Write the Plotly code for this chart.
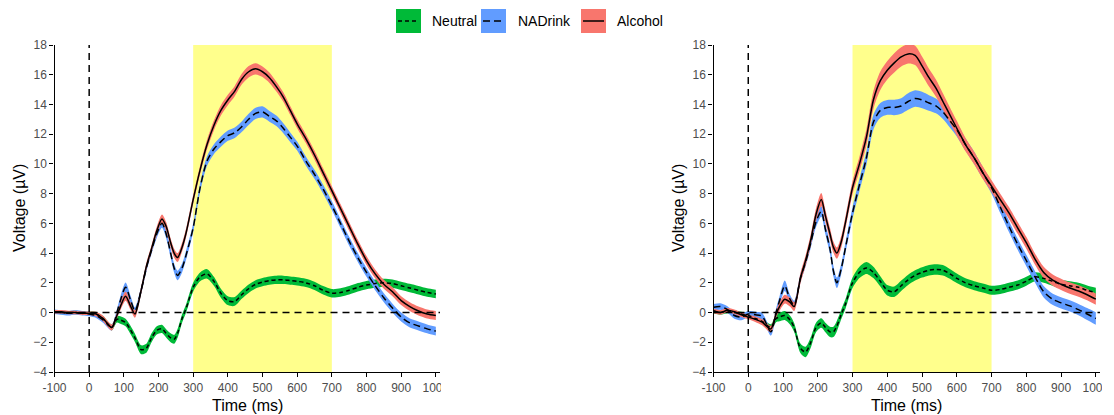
import plotly.graph_objects as go

# ---------------- data ----------------
time_ms = [-100, -80, -60, -40, -20, 0, 20, 40, 65, 80, 90, 105, 120, 132,
           150, 165, 180, 195, 210, 222, 235, 245, 255, 268, 280,
           300, 320, 340, 360, 380, 400, 420, 440, 460, 480, 500, 520, 540, 560, 580, 600,
           625, 650, 675, 700, 725, 750, 775, 800, 825, 850, 875, 900, 925, 950, 975, 1000]

conditions = ["Neutral", "NADrink", "Alcohol"]

# Left panel means
left_neutral = [0.05, 0.0, -0.05, 0.0, -0.05, -0.05, -0.1, -0.4,
                -1.0, -0.45, -0.5, -0.67, -1.2, -1.7,
                -2.5, -2.4, -1.7, -1.2, -1.1, -1.4, -1.7, -1.8, -1.4, -0.4, 0.3,
                1.7, 2.4, 2.6, 2.1, 1.3, 0.8, 0.75, 1.2, 1.6, 1.9, 2.05, 2.15, 2.2, 2.2, 2.15, 2.1,
                2.0, 1.8, 1.5, 1.3, 1.35, 1.5, 1.7, 1.85, 1.95, 2.0, 1.95, 1.8, 1.65, 1.5, 1.35, 1.25]
left_nadrink = [0.05, 0.0, -0.05, 0.0, -0.05, -0.1, -0.2, -0.5,
                -1.0, 0.0, 0.8, 1.7, 0.8, 0.1,
                1.5, 3.0, 4.2, 5.3, 6.0, 5.3, 4.0, 3.0, 2.5, 3.0, 3.9,
                5.7, 8.4, 10.2, 11.0, 11.5, 11.9, 12.1, 12.5, 13.0, 13.4, 13.5, 13.2, 12.9, 12.4, 11.8, 11.2,
                10.2, 9.3, 8.3, 7.2, 6.0, 4.8, 3.7, 2.7, 1.8, 1.0, 0.3, -0.3, -0.7, -0.9, -1.1, -1.25]
left_alcohol = [0.05, 0.05, 0.0, 0.0, -0.05, -0.05, -0.1, -0.4,
                -1.0, -0.2, 0.4, 1.1, 0.4, -0.1,
                1.5, 3.1, 4.3, 5.5, 6.3, 5.8, 4.7, 4.0, 3.7, 4.4, 5.4,
                7.6, 9.6, 11.3, 12.6, 13.6, 14.3, 14.9, 15.7, 16.2, 16.4, 16.2, 15.8, 15.2, 14.5, 13.6, 12.7,
                11.7, 10.6, 9.4, 8.2, 7.0, 5.8, 4.6, 3.5, 2.6, 1.9, 1.4, 0.8, 0.4, 0.1, -0.1, -0.2]

# Left panel ribbon half-widths
left_neutral_se = [0.12, 0.12, 0.12, 0.12, 0.12, 0.12, 0.14, 0.16,
                   0.2, 0.22, 0.25, 0.25, 0.28, 0.28,
                   0.3, 0.3, 0.3, 0.28, 0.28, 0.28, 0.3, 0.3, 0.3, 0.28, 0.28,
                   0.3, 0.3, 0.32, 0.3, 0.3, 0.3, 0.3, 0.28, 0.28, 0.28, 0.28, 0.28, 0.28, 0.28, 0.28, 0.28,
                   0.28, 0.28, 0.28, 0.28, 0.28, 0.28, 0.28, 0.28, 0.28, 0.28, 0.28, 0.28, 0.28, 0.28, 0.28, 0.28]
left_nadrink_se = [0.15, 0.15, 0.15, 0.15, 0.15, 0.15, 0.16, 0.18,
                   0.2, 0.22, 0.28, 0.32, 0.28, 0.25,
                   0.25, 0.25, 0.25, 0.28, 0.3, 0.3, 0.3, 0.3, 0.32, 0.3, 0.3,
                   0.3, 0.3, 0.32, 0.33, 0.35, 0.35, 0.35, 0.36, 0.38, 0.38, 0.38, 0.36, 0.35, 0.33, 0.32, 0.3,
                   0.3, 0.3, 0.3, 0.3, 0.3, 0.3, 0.3, 0.3, 0.3, 0.3, 0.3, 0.3, 0.3, 0.3, 0.3, 0.3]
left_alcohol_se = [0.12, 0.12, 0.12, 0.12, 0.12, 0.12, 0.15, 0.18,
                   0.2, 0.2, 0.25, 0.3, 0.25, 0.25,
                   0.25, 0.25, 0.25, 0.28, 0.3, 0.3, 0.3, 0.3, 0.3, 0.3, 0.3,
                   0.3, 0.3, 0.32, 0.33, 0.35, 0.35, 0.35, 0.36, 0.38, 0.38, 0.36, 0.35, 0.33, 0.32, 0.3, 0.3,
                   0.3, 0.3, 0.3, 0.3, 0.3, 0.3, 0.3, 0.3, 0.3, 0.3, 0.3, 0.3, 0.3, 0.3, 0.3, 0.3]

# Right panel means
right_neutral = [0.1, 0.0, 0.1, 0.0, -0.1, -0.2, -0.4, -0.6,
                 -1.0, -0.4, -0.3, -0.2, -0.5, -1.0,
                 -2.4, -2.65, -2.0, -1.0, -0.7, -1.0, -1.3, -1.3, -0.9, -0.1, 0.6,
                 2.0, 2.7, 3.0, 2.7, 2.1, 1.5, 1.4, 1.8, 2.2, 2.5, 2.7, 2.85, 2.9, 2.85, 2.6, 2.3,
                 2.0, 1.8, 1.65, 1.5, 1.55, 1.7, 1.85, 2.1, 2.4, 2.3, 2.1, 1.9, 1.8, 1.7, 1.5, 1.35]
right_nadrink = [0.35, 0.4, 0.2, -0.2, -0.3, -0.1, -0.15, -0.25,
                 -1.3, 0.0, 0.8, 1.8, 0.9, 0.5,
                 2.3, 3.4, 4.7, 6.1, 6.8, 5.6, 4.3, 2.8, 2.0, 3.0, 4.4,
                 6.7, 8.6, 10.4, 12.8, 13.6, 13.8, 13.8, 13.9, 14.2, 14.4, 14.3, 14.1, 13.9, 13.5, 12.9, 12.3,
                 11.3, 10.4, 9.4, 8.4, 7.1, 5.8, 4.6, 3.5, 2.4, 1.4, 0.9, 0.65, 0.45, 0.2, -0.1, -0.4]
right_alcohol = [0.1, 0.0, 0.15, 0.05, -0.15, -0.3, -0.45, -0.65,
                 -1.1, -0.1, 0.4, 0.9, 0.7, 0.4,
                 2.3, 3.5, 4.9, 6.6, 7.6, 6.5, 5.3, 4.4, 4.0, 4.8, 6.1,
                 8.4, 10.0, 11.8, 14.3, 15.6, 16.3, 16.8, 17.2, 17.4, 17.3, 16.6, 15.8, 15.1, 14.2, 13.3, 12.4,
                 11.3, 10.4, 9.4, 8.5, 7.6, 6.7, 5.7, 4.7, 3.6, 2.7, 2.2, 1.9, 1.65, 1.45, 1.2, 0.9]

# Right panel ribbon half-widths
right_neutral_se = [0.15, 0.15, 0.15, 0.15, 0.15, 0.15, 0.18, 0.2,
                    0.22, 0.25, 0.28, 0.3, 0.3, 0.3,
                    0.32, 0.35, 0.35, 0.32, 0.32, 0.32, 0.35, 0.35, 0.35, 0.32, 0.32,
                    0.35, 0.38, 0.4, 0.38, 0.35, 0.35, 0.35, 0.35, 0.35, 0.35, 0.35, 0.35, 0.35, 0.35, 0.33, 0.32,
                    0.3, 0.3, 0.3, 0.3, 0.3, 0.3, 0.3, 0.3, 0.3, 0.3, 0.3, 0.3, 0.3, 0.3, 0.32, 0.32]
right_nadrink_se = [0.22, 0.22, 0.22, 0.22, 0.22, 0.2, 0.2, 0.22,
                    0.25, 0.28, 0.3, 0.35, 0.3, 0.3,
                    0.3, 0.3, 0.32, 0.35, 0.35, 0.35, 0.35, 0.35, 0.35, 0.35, 0.35,
                    0.4, 0.42, 0.45, 0.5, 0.5, 0.5, 0.52, 0.52, 0.55, 0.55, 0.55, 0.52, 0.5, 0.48, 0.45, 0.45,
                    0.42, 0.42, 0.4, 0.4, 0.4, 0.38, 0.38, 0.38, 0.38, 0.38, 0.38, 0.38, 0.38, 0.38, 0.4, 0.42]
right_alcohol_se = [0.15, 0.15, 0.15, 0.15, 0.15, 0.15, 0.18, 0.2,
                    0.22, 0.25, 0.28, 0.3, 0.3, 0.3,
                    0.35, 0.35, 0.38, 0.42, 0.45, 0.42, 0.4, 0.38, 0.38, 0.4, 0.42,
                    0.45, 0.5, 0.55, 0.6, 0.62, 0.62, 0.65, 0.65, 0.65, 0.65, 0.62, 0.6, 0.58, 0.55, 0.52, 0.5,
                    0.45, 0.42, 0.42, 0.4, 0.4, 0.4, 0.4, 0.4, 0.38, 0.38, 0.38, 0.38, 0.38, 0.38, 0.38, 0.38]

x_tickvals = [-100, 0, 100, 200, 300, 400, 500, 600, 700, 800, 900, 1000]
x_ticktext = ["-100", "0", "100", "200", "300", "400", "500", "600", "700", "800", "900", "1000"]
y_tickvals = [-4, -2, 0, 2, 4, 6, 8, 10, 12, 14, 16, 18]
window_ms = [300, 700]

# ---------------- style ----------------
W, H = 1114, 415
FONT = "Liberation Sans, Arial, sans-serif"
fill_colors = {"Neutral": "#00BA38", "NADrink": "#619CFF", "Alcohol": "#F8766D"}
dashes = {"Neutral": "4px,3px", "NADrink": "7px,4px", "Alcohol": "solid"}

def px_x(p):
    return p / W

def px_y(p):
    return 1 - p / H

panels = [
    ("x", "y", (54.5, 440.0), {"Neutral": (left_neutral, left_neutral_se),
                              "NADrink": (left_nadrink, left_nadrink_se),
                              "Alcohol": (left_alcohol, left_alcohol_se)}),
    ("x2", "y2", (713.5, 1100.0), {"Neutral": (right_neutral, right_neutral_se),
                                  "NADrink": (right_nadrink, right_nadrink_se),
                                  "Alcohol": (right_alcohol, right_alcohol_se)}),
]

fig = go.Figure()
shapes = []
annotations = []

for xa, ya, (px0, px1), series in panels:
    for cond in conditions:
        mean, se = series[cond]
        lo = [m - s for m, s in zip(mean, se)]
        hi = [m + s for m, s in zip(mean, se)]
        fig.add_trace(go.Scatter(x=time_ms, y=lo, xaxis=xa, yaxis=ya, mode="lines",
                                 line=dict(width=0, shape="spline", smoothing=0.8),
                                 showlegend=False, hoverinfo="skip"))
        fig.add_trace(go.Scatter(x=time_ms, y=hi, xaxis=xa, yaxis=ya, mode="lines",
                                 line=dict(width=0, shape="spline", smoothing=0.8),
                                 fill="tonexty", fillcolor=fill_colors[cond],
                                 showlegend=False, hoverinfo="skip"))
    for cond in conditions:
        mean, se = series[cond]
        fig.add_trace(go.Scatter(x=time_ms, y=mean, xaxis=xa, yaxis=ya, mode="lines",
                                 line=dict(color="black", width=1.5, dash=dashes[cond],
                                           shape="spline", smoothing=0.8),
                                 name=cond, showlegend=False))
    shapes.append(dict(type="rect", xref=xa, yref=ya + " domain", x0=window_ms[0], x1=window_ms[1],
                       y0=0, y1=1, fillcolor="#FFFF8C", line=dict(width=0), layer="below"))
    shapes.append(dict(type="line", xref=xa, yref=ya + " domain", x0=0, x1=0, y0=0, y1=1,
                       line=dict(color="black", width=1.5, dash="7px,5px"), layer="above"))
    shapes.append(dict(type="line", xref=xa + " domain", yref=ya, x0=0, x1=1, y0=0, y1=0,
                       line=dict(color="black", width=1.5, dash="7px,5px"), layer="above"))
    annotations.append(dict(text="Time (ms)", xref="paper", yref="paper",
                            x=px_x((px0 + px1) / 2), y=px_y(405), xanchor="center", yanchor="middle",
                            showarrow=False, font=dict(family=FONT, size=16, color="black")))
    annotations.append(dict(text="Voltage (µV)", xref="paper", yref="paper",
                            x=px_x(px0 - 35), y=px_y(208.5), xanchor="center", yanchor="middle",
                            textangle=-90, showarrow=False,
                            font=dict(family=FONT, size=16, color="black")))

# clip the rightmost tick label like the original
shapes.append(dict(type="rect", xref="paper", yref="paper", x0=px_x(441), x1=px_x(456),
                   y0=px_y(398), y1=px_y(378), fillcolor="white", line=dict(width=0), layer="above"))
shapes.append(dict(type="rect", xref="paper", yref="paper", x0=px_x(1102), x1=1,
                   y0=px_y(398), y1=px_y(378), fillcolor="white", line=dict(width=0), layer="above"))

# custom legend
legend_items = [("Neutral", 396, 430), ("NADrink", 481, 516), ("Alcohol", 581, 615)]
for cond, sx, tx in legend_items:
    shapes.append(dict(type="rect", xref="paper", yref="paper", x0=px_x(sx), x1=px_x(sx + 25),
                       y0=px_y(33), y1=px_y(9), fillcolor=fill_colors[cond], line=dict(width=0)))
    shapes.append(dict(type="line", xref="paper", yref="paper", x0=px_x(sx + 2), x1=px_x(sx + 23),
                       y0=px_y(21), y1=px_y(21),
                       line=dict(color="black", width=1.5, dash=dashes[cond])))
    annotations.append(dict(text=cond, xref="paper", yref="paper", x=px_x(tx), y=px_y(21),
                            xanchor="left", yanchor="middle", showarrow=False,
                            font=dict(family=FONT, size=14, color="black")))

axis_common = dict(showline=True, linecolor="black", linewidth=1.3, ticks="outside",
                   tickcolor="black", ticklen=4, tickwidth=1.3, showgrid=False, zeroline=False,
                   tickfont=dict(family=FONT, size=12, color="#4D4D4D"))

ydom = [px_y(372), px_y(45)]
fig.update_layout(
    width=W, height=H, margin=dict(l=0, r=0, t=0, b=0, autoexpand=False),
    paper_bgcolor="white", plot_bgcolor="white", showlegend=False,
    xaxis=dict(domain=[px_x(54.5), px_x(440)], range=[-100, 1012], anchor="y",
               tickvals=x_tickvals, ticktext=x_ticktext, **axis_common),
    yaxis=dict(domain=ydom, range=[-4, 18], anchor="x", tickvals=y_tickvals, **axis_common),
    xaxis2=dict(domain=[px_x(713.5), px_x(1100)], range=[-100, 1012], anchor="y2",
                tickvals=x_tickvals, ticktext=x_ticktext, **axis_common),
    yaxis2=dict(domain=ydom, range=[-4, 18], anchor="x2", tickvals=y_tickvals, **axis_common),
    shapes=shapes, annotations=annotations,
)

fig.write_html("out.html",
               post_script="document.body.style.margin='0';document.body.style.padding='0';"
                           "document.documentElement.style.margin='0';"
                           "document.body.style.overflow='hidden';")
